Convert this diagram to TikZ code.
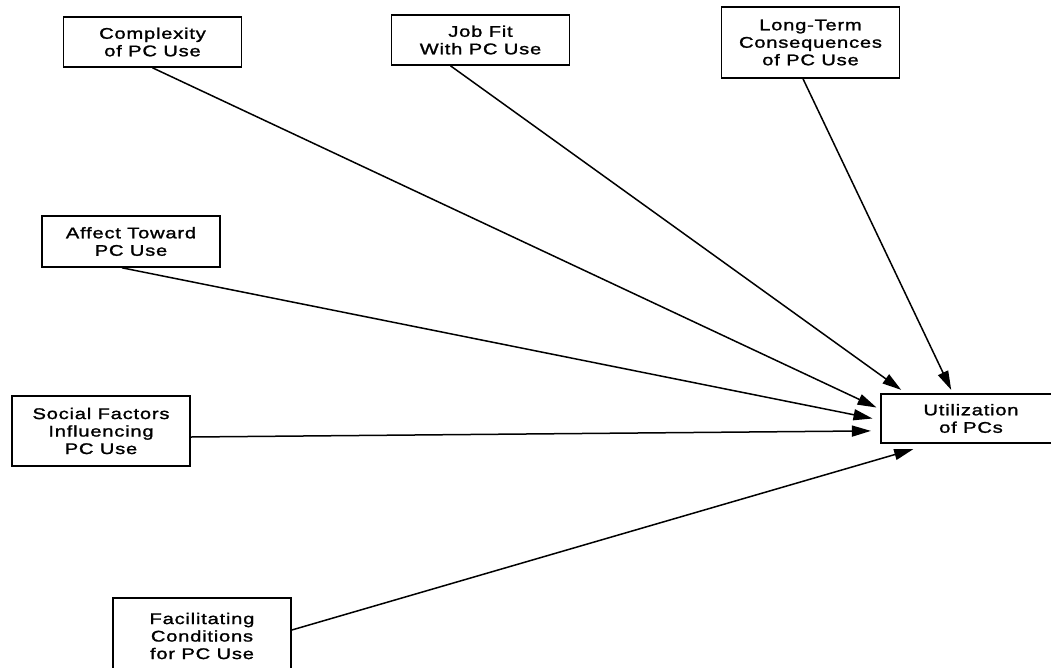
\documentclass[tikz,border=0pt]{standalone}
\usepackage{fontspec}
\setmainfont[FakeStretch=1.3, LetterSpace=5, FakeBold=1.4]{Liberation Sans}
\usetikzlibrary{arrows.meta}

\begin{document}
\begin{tikzpicture}[x=1pt,y=-1pt,
  factor/.style={draw=black, line width=1.6pt, minimum width=178pt, align=center,
    inner sep=0pt, font=\fontsize{15.5}{17.5}\selectfont},
  link/.style={line width=1.5pt, -{Triangle[length=19pt,width=11pt]}}]
\clip (0,0) rectangle (1051,667);
\fill[white] (0,0) rectangle (1051,667);

% antecedent factors
\node[factor, minimum height=50pt] (cx) at (152.5,42)  {Complexity\\of PC Use};
\node[factor, minimum height=50pt] (jf) at (480.5,40)  {Job Fit\\With PC Use};
\node[factor, minimum height=71pt] (lt) at (810.5,42.5) {Long-Term\\Consequences\\of PC Use};
\node[factor, minimum height=51pt] (af) at (131,241.5) {Affect Toward\\PC Use};
\node[factor, minimum height=70pt] (sf) at (101,431)   {Social Factors\\Influencing\\PC Use};
\node[factor, minimum height=76pt] (fc) at (202,636)   {Facilitating\\Conditions\\for PC Use};

% outcome
\node[factor, minimum width=180pt, minimum height=49pt] (ut) at (971,418.5) {Utilization\\of PCs};

% arrow tip positions around the outcome box
\coordinate (tJF) at ([shift={(21,-3.3)}]ut.north west);
\coordinate (tLT) at ([shift={(71,-3.3)}]ut.north west);
\coordinate (tCX) at ([shift={(-3.7,14.3)}]ut.north west);
\coordinate (tAF) at ([shift={(-7.7,25.3)}]ut.north west);
\coordinate (tSF) at ([shift={(-9.3,37.7)}]ut.north west);
\coordinate (tFC) at ([shift={(33,56)}]ut.north west);

% paths
\draw[link] (cx.south) -- (tCX);
\draw[link] ([xshift=-30pt]jf.south) -- (tJF);
\draw[link] ([xshift=-7.5pt]lt.south) -- (tLT);
\draw[link] ([xshift=-9pt]af.south) -- (tAF);
\draw[link] ([yshift=-6pt]sf.east) -- (tSF);
\draw[link] ([yshift=6pt]fc.east) -- (tFC);
\end{tikzpicture}
\end{document}
